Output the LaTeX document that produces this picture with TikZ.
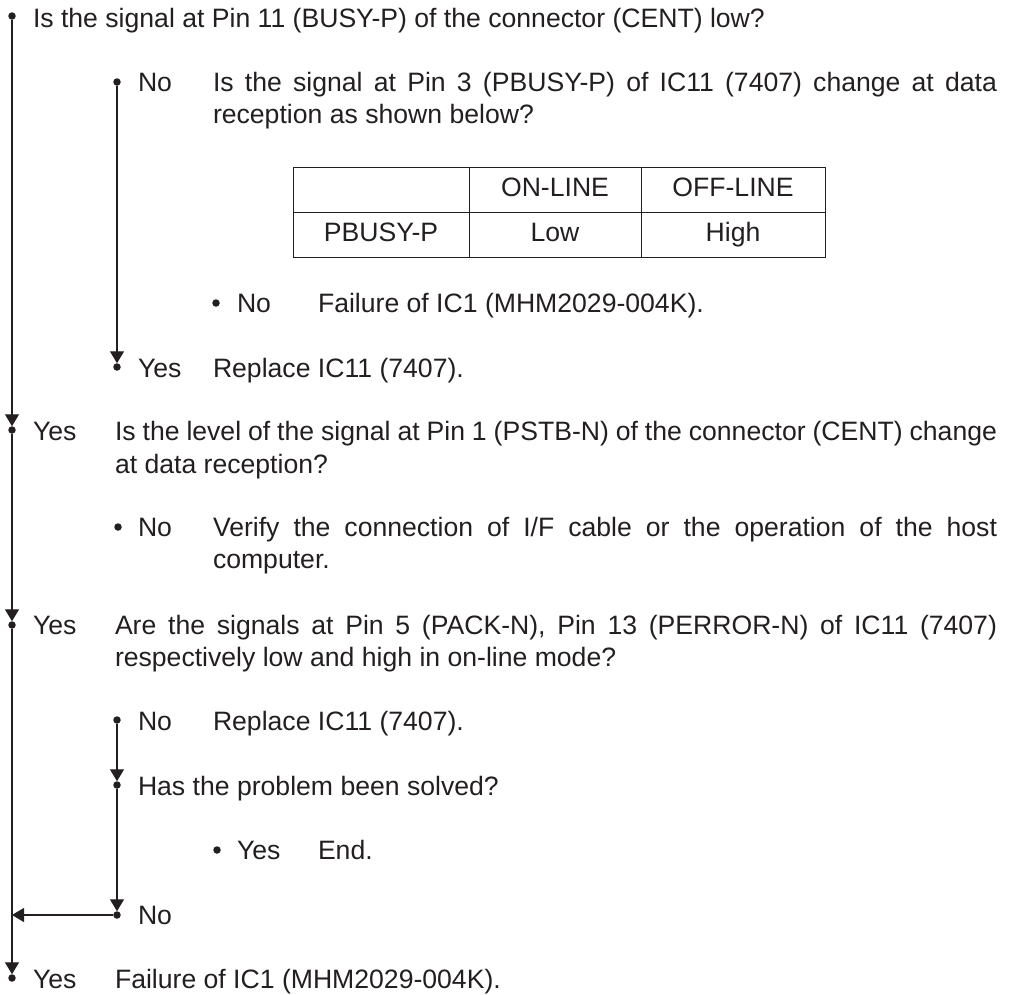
\documentclass[tikz,border=0pt]{standalone}
\usepackage{fontspec}
\setmainfont{Liberation Sans}
\usetikzlibrary{arrows.meta}
\definecolor{ink}{RGB}{35,31,32}
\newcommand{\jline}[2]{\makebox[#1][s]{#2}}
\begin{document}
\begin{tikzpicture}[x=1pt,y=-1pt,
  font=\fontsize{26.6}{32}\selectfont,
  every node/.style={inner sep=0pt, outer sep=0pt, text=ink},
  dot/.style={circle, fill=ink, minimum size=7.5pt, inner sep=0pt},
  txt/.style={anchor=base west},
  conn/.style={draw=ink, line width=1.2pt},
  arr/.style={conn, -{Triangle[width=14pt,length=12pt]}},
  cell/.style={draw=ink, line width=1pt, minimum width=#1, minimum height=45pt,
    anchor=north west, text height=19pt, text depth=5pt}]
\useasboundingbox (0,0) rectangle (1012,994);

% first question
\node[dot] (d0) at (12,16) {};
\node[txt] (q0) at (33,27) {Is the signal at Pin 11 (BUSY-P) of the connector (CENT) low?};

% No branch 1
\node[dot] (d1) at (117,82) {};
\node[txt] (l1) at (138,91) {No};
\node[txt] (q1a) at (213,91) {\jline{784pt}{Is the signal at Pin 3 (PBUSY-P) of IC11 (7407) change at data}};
\node[txt] (q1b) at (213,123.5) {reception as shown below?};

% table
\node[cell=176pt] (t11) at (293,167) {};
\node[cell=172pt] (t12) at (469,167) {ON-LINE};
\node[cell=184pt] (t13) at (641,167) {OFF-LINE};
\node[cell=176pt] (t21) at (293,212) {PBUSY-P};
\node[cell=172pt] (t22) at (469,212) {Low};
\node[cell=184pt] (t23) at (641,212) {High};

\node[dot] (b1) at (216,303) {};
\node[txt] (l2) at (237,312) {No};
\node[txt] (a2) at (318,312) {Failure of IC1 (MHM2029-004K).};

\node[dot] (d2) at (117,367) {};
\node[txt] (l3) at (138,377) {Yes};
\node[txt] (a3) at (213,377) {Replace IC11 (7407).};
\draw[arr] (d1) -- (d2);

% Yes 1
\node[dot] (d3) at (12,430) {};
\node[txt] (l4) at (33,440) {Yes};
\node[txt] (q4a) at (115,440) {\jline{882pt}{Is the level of the signal at Pin 1 (PSTB-N) of the connector (CENT) change}};
\node[txt] (q4b) at (115,473) {at data reception?};
\draw[arr] (d0) -- (d3);

\node[dot] (b2) at (118,527) {};
\node[txt] (l5) at (138,536) {No};
\node[txt] (a5a) at (213,536) {\jline{784pt}{Verify the connection of I/F cable or the operation of the host}};
\node[txt] (a5b) at (213,568) {computer.};

% Yes 2
\node[dot] (d4) at (12,625) {};
\node[txt] (l6) at (33,634) {Yes};
\node[txt] (q6a) at (115,634) {\jline{882pt}{Are the signals at Pin 5 (PACK-N), Pin 13 (PERROR-N) of IC11 (7407)}};
\node[txt] (q6b) at (115,666) {respectively low and high in on-line mode?};
\draw[arr] (d3) -- (d4);

\node[dot] (d5) at (117,720) {};
\node[txt] (l7) at (138,730) {No};
\node[txt] (a7) at (213,730) {Replace IC11 (7407).};

\node[dot] (d6) at (117,785) {};
\node[txt] (q8) at (138,795) {Has the problem been solved?};
\draw[arr] (d5) -- (d6);

\node[dot] (b3) at (217,850) {};
\node[txt] (l9) at (237,859) {Yes};
\node[txt] (a9) at (318,859) {End.};

\node[dot] (d7) at (117,915) {};
\node[txt] (l10) at (138,924) {No};
\draw[arr] (d6) -- (d7);
\coordinate (m) at (12,915);
\draw[arr] (d7) -- (m);

% Yes 3
\node[dot] (d8) at (12,978) {};
\node[txt] (l11) at (33,988) {Yes};
\node[txt] (a11) at (115,988) {Failure of IC1 (MHM2029-004K).};
\draw[arr] (d4) -- (d8);
\end{tikzpicture}
\end{document}
